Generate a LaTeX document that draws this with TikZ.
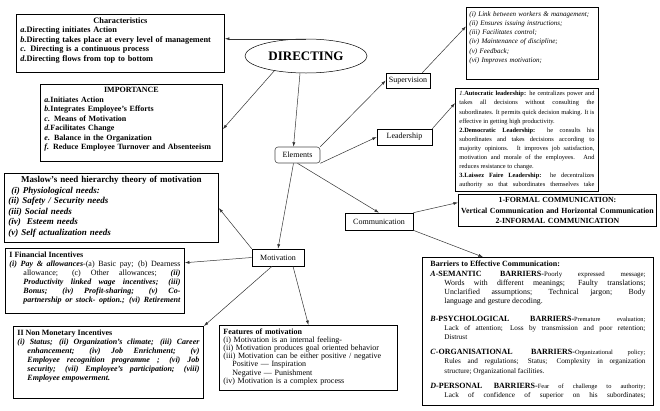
\documentclass[tikz,border=0pt]{standalone}
\usepackage{fontspec}
\setmainfont{Liberation Serif}
\usetikzlibrary{calc,shapes.geometric,arrows.meta}

% one text line as its own paragraph: stretched (justline) or left ragged (raggline)
\newcommand{\justline}[2][0pt]{\par{\leftskip=#1\relax #2\par}}
\newcommand{\raggline}[2][0pt]{\par{\leftskip=#1\relax #2\hfill\null\par}}

\begin{document}
\begin{tikzpicture}[x=1pt, y=-1pt,
    panel/.style={draw=black, line width=0.9pt, anchor=north west, inner xsep=4pt, inner ysep=3pt, align=left},
    textpanel/.style={panel, align=justify, execute at begin node={\parfillskip=0pt}},
    tag/.style={draw=black, line width=0.6pt, minimum height=16pt, inner xsep=2pt, font=\fontsize{8}{9}\selectfont},
    link/.style={-{Latex[length=4.5pt,width=3pt]}, line width=0.5pt, draw=black!80}
  ]
    % Fix the page size
    \path[use as bounding box, fill=white] (0,0) rectangle (660,410);

    % Draw the centre ellipse and the element tags
    \node[draw, ellipse, line width=0.5pt, minimum width=122pt, minimum height=34pt, inner sep=0pt,
          font=\bfseries\fontsize{13}{13}\selectfont] (dir) at (306,56) {DIRECTING};
    \node[tag, rounded corners=3pt, draw=black!70, minimum width=45pt] (elem) at (297.5,155) {Elements};
    \node[tag, minimum width=44pt, minimum height=15pt] (sup) at (408,80.5) {Supervision};
    \node[tag, minimum width=55pt] (lead) at (404.5,137) {Leadership};
    \node[tag, minimum width=68pt, minimum height=17pt] (comm) at (379,221.5) {Communication};
    \node[tag, minimum width=52pt, minimum height=17pt] (motiv) at (278,257.5) {Motivation};

    % Draw the boxes round the ellipse
    \node[panel, text width=200pt, text depth=46pt, font=\bfseries\fontsize{8.3}{9.5}\selectfont] (chars) at (16,14) {%
      {\centering Characteristics\par}
      \textit{a.}Directing initiates Action\\
      \textit{b.}Directing takes place at every level of management\\
      \textit{c.} Directing is a continuous process\\
      \textit{d.}Directing flows from top to bottom};

    \node[panel, text width=174pt, text depth=66pt, font=\bfseries\fontsize{8}{9.5}\selectfont] (imp) at (40,84) {%
      {\centering IMPORTANCE\par}
      \textit{a.}Initiates Action\\
      \textit{b.}Integrates Employee's Efforts\\
      \textit{c.} Means of Motivation\\
      \textit{d.}Facilitates Change\\
      \textit{e.} Balance in the Organization\\
      \textit{f.} Reduce Employee Turnover and Absenteeism};

    \node[panel, text width=126pt, inner xsep=3pt, text depth=59pt, inner ysep=4pt, font=\itshape\fontsize{7}{9.2}\selectfont] (supinfo) at (466,7) {%
      (i) Link between workers \& management;\\
      (ii) Ensures issuing instructions;\\
      (iii) Facilitates control;\\
      (iv) Maintenance of discipline;\\
      (v) Feedback;\\
      (vi) Improves motivation;};

    \node[textpanel, text width=135pt, text depth=93pt, font=\fontsize{6.4}{9.1}\selectfont] (leadinfo) at (455,88) {%
      \textit{1.}\textbf{Autocratic leadership:} he centralizes power and
      \justline{takes all decisions without consulting the}
      \justline{subordinates. It permits quick decision making. It is}
      \raggline{effective in getting high productivity.}
      \justline{\textbf{2.Democratic Leadership:} he consults his}
      \justline{subordinates and takes decisions according to}
      \justline{majority opinions. It improves job satisfaction,}
      \justline{motivation and morale of the employees. And}
      \raggline{reduces resistance to change.}
      \justline{\textbf{3.Laissez Faire Leadership:} he decentralizes}
      \justline{authority so that subordinates themselves take}};

    \node[panel, text width=194pt, inner xsep=2pt, text depth=21pt, align=center, font=\bfseries\fontsize{7.8}{10.5}\selectfont] (formal) at (458,194) {%
      1-FORMAL COMMUNICATION:\\
      Vertical Communication and Horizontal Communication\\
      2-INFORMAL COMMUNICATION};

    \node[textpanel, text width=215pt, minimum width=231pt, text depth=136pt, font=\fontsize{7.2}{9.2}\selectfont] (barr) at (422,257) {%
      \textbf{\fontsize{8}{9.2}\selectfont Barriers to Effective Communication:}\hfill\null
      \par\vspace{1pt}
      \justline{{\bfseries\fontsize{8}{9.2}\selectfont\textit{A}-SEMANTIC BARRIERS-}{\fontsize{6.8}{9.2}\selectfont Poorly expressed message;}}
      \justline[14pt]{\fontsize{7.8}{9.2}\selectfont Words with different meanings; Faulty translations;}
      \justline[14pt]{\fontsize{7.8}{9.2}\selectfont Unclarified assumptions; Technical jargon; Body}
      \raggline[14pt]{\fontsize{7.8}{9.2}\selectfont language and gesture decoding.}
      \par\vspace{8pt}
      \justline{{\bfseries\fontsize{8}{9.2}\selectfont\textit{B}-PSYCHOLOGICAL BARRIERS-}{\fontsize{6.4}{9.2}\selectfont Premature evaluation;}}
      \justline[14pt]{Lack of attention; Loss by transmission and poor retention;}
      \raggline[14pt]{Distrust}
      \par\vspace{6pt}
      \justline{{\bfseries\fontsize{8}{9.2}\selectfont\textit{C}-ORGANISATIONAL BARRIERS-}{\fontsize{6.4}{9.2}\selectfont Organizational policy;}}
      \justline[14pt]{Rules and regulations; Status; Complexity in organization}
      \raggline[14pt]{structure; Organizational facilities.}
      \par\vspace{6pt}
      \justline{{\bfseries\fontsize{8}{9.2}\selectfont\textit{D}-PERSONAL BARRIERS-}{\fontsize{6.4}{9.2}\selectfont Fear of challenge to authority;}}
      \justline[14pt]{Lack of confidence of superior on his subordinates;}};

    % Draw the motivation boxes
    \node[panel, text width=206pt, text depth=57pt, font=\bfseries\fontsize{9}{10.5}\selectfont] (maslow) at (4,173) {%
      {\centering Maslow's need hierarchy theory of motivation\par}
      \itshape\ (i) Physiological needs:\\
      (ii) Safety / Security needs\\
      (iii) Social needs\\
      (iv)\ \ Esteem needs\\
      (v) Self actualization needs};

    \node[textpanel, text width=171pt, text depth=53pt, font=\fontsize{8}{9}\selectfont] (fin) at (5,248) {%
      \textbf{I Financial Incentives}\hfill\null
      \justline{\textbf{\textit{(i) Pay \& allowances}}-(a) Basic pay; (b) Dearness}
      \justline[14pt]{allowance; (c) Other allowances; \textbf{\textit{(ii)}}}
      \justline[14pt]{\textbf{\textit{Productivity linked wage incentives; (iii)}}}
      \justline[14pt]{\textbf{\textit{Bonus; (iv) Profit-sharing; (v) Co-}}}
      \justline[14pt]{\textbf{\textit{partnership or stock- option.; (vi) Retirement}}}};

    \node[textpanel, text width=182pt, text depth=60pt, font=\fontsize{8}{9}\selectfont] (nonmon) at (13,326) {%
      \textbf{II Non Monetary Incentives}\hfill\null
      \bfseries\itshape
      \justline{(i) Status; (ii) Organization's climate; (iii) Career}
      \justline[10pt]{enhancement; (iv) Job Enrichment; (v)}
      \justline[10pt]{Employee recognition programme ; (vi) Job}
      \justline[10pt]{security; (vii) Employee's participation; (viii)}
      \raggline[10pt]{Employee empowerment.}};

    \node[panel, text width=170pt, text depth=53pt, font=\fontsize{8}{8.2}\selectfont] (feat) at (219,325) {%
      \textbf{Features of motivation}\\
      (i) Motivation is an internal feeling-\\
      (ii) Motivation produces goal oriented behavior\\
      (iii) Motivation can be either positive / negative\\
      \hspace*{9pt}Positive --- Inspiration\\
      \hspace*{9pt}Negative --- Punishment\\
      (iv) Motivation is a complex process};

    % Draw the arrows from the ellipse
    \draw[link] (dir.north) -- (dir.north -| chars.east);
    \draw[link] (dir.205) -- ([yshift=-6pt]imp.east);
    \draw[link] ([xshift=-6pt]dir.south) -- ([xshift=-4pt]elem.north);

    % Draw the arrows from the elements
    \draw[link] (elem.north east) -- (sup.west);
    \draw[link] ([xshift=-8pt]sup.north east) -- ([yshift=17pt]supinfo.west);
    \draw[link] (elem.south east) -- (lead.west);
    \draw[link] (lead.north east) -- ([yshift=37pt]leadinfo.west);
    \draw[link] (elem.south) -- (comm.north);
    \draw[link] (comm.north east) -- ([yshift=8pt]formal.west);
    \draw[link] (comm.south east) -- ([xshift=-55pt]barr.north);
    \draw[link] ([xshift=-4pt]elem.south) -- (motiv.north);

    % Draw the arrows from motivation
    \draw[link] (motiv.north west) -- (maslow.east);
    \draw[link] (motiv.west) -- ([yshift=18pt]fin.east);
    \draw[link] ([xshift=-6pt]motiv.south) -- (nonmon.north east);
    \draw[link] ([xshift=15pt]motiv.south) -- (feat.north);

\end{tikzpicture}
\end{document}
